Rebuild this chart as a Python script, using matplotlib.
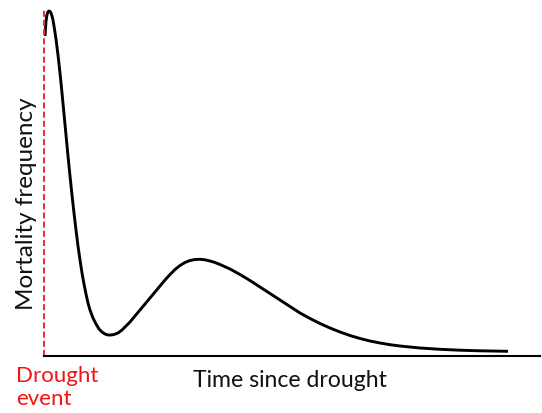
import matplotlib
matplotlib.use("Agg")
import matplotlib.pyplot as plt

# Curve (time since drought, mortality frequency), arbitrary units
time = [1, 2, 3, 4, 5, 6, 7, 8, 9, 10,
        12, 14, 16, 18, 20, 22, 24, 26, 28, 30, 32, 34, 36, 38, 40, 42, 44, 46,
        49, 52, 55, 58, 61, 64, 67, 70,
        74, 78, 82, 86,
        91, 96, 101, 106, 111, 116, 121, 126, 131, 136, 141, 146, 151, 156, 161, 166, 171, 176,
        186, 196, 206, 216, 226, 236, 246, 256, 266, 276, 286, 296, 306, 316, 326, 336, 346, 356,
        376, 396, 416, 436, 464]
mortality = [320, 335, 341.5, 344.2, 345, 344.5, 343, 340, 336, 330,
             317, 301, 283, 263, 242, 221, 200, 180, 161, 143, 126, 110, 96, 83, 72, 62, 53, 46,
             38, 32, 27, 24, 22, 21, 21, 21.5,
             23, 26, 30, 34,
             40, 46, 52, 58, 64, 70, 76, 81.5, 86.5, 90.5, 93.5, 95.5, 96.5, 96.7, 96.2, 95, 93.5, 91.5,
             87, 81.5, 75.5, 69, 62.5, 56, 49.5, 43, 37.5, 32.5, 28, 24, 20.5, 17.5, 15, 13, 11.3, 10,
             8, 6.7, 5.8, 5.2, 4.7]

xlabel = "Time since drought"
ylabel = "Mortality frequency"
event_label = "Drought\nevent"

RED = "#f21414"
plt.rcParams['font.family'] = ['Lato', 'DejaVu Sans']

fig = plt.figure(figsize=(5.42, 4.14), dpi=100)
ax = fig.add_axes([44/542, 57/414, 496/542, 347/414])
ax.plot(time, mortality, color="black", lw=2.1, solid_joinstyle="round",
        solid_capstyle="butt")
ax.set_xlim(0, 496)
ax.set_ylim(0, 347)
for s in ["top", "right", "left"]:
    ax.spines[s].set_visible(False)
ax.spines["bottom"].set_linewidth(1.5)
ax.axvline(0, color="#e8333a", lw=1.5, dashes=(2.9, 1.5), clip_on=False)
ax.set_xticks([])
ax.set_yticks([])

fig.text(290/542, 1 - 381/414, xlabel, fontsize=16.6, ha="center", va="center", color="#111111")
fig.text(27/542, 1 - 204/414, ylabel, fontsize=17.5, ha="center", va="center",
         rotation=90, color="#111111")
fig.text(16/542, 1 - 366/414, event_label, fontsize=16, ha="left", va="top",
         color=RED, linespacing=1.2)

fig.savefig("out.png", dpi=100)
